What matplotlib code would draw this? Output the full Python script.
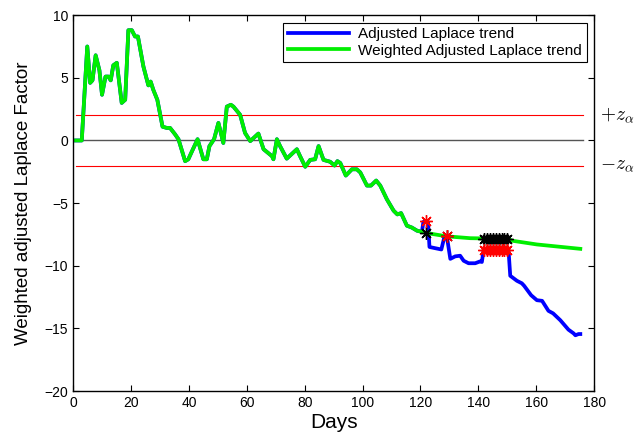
import numpy as np
import matplotlib.pyplot as plt

# common part of both trends (the blue lies under the green here)
days_common = [1, 3, 4.9, 5.9, 6.7, 7.8, 9.1, 10.0, 11.2, 12.2, 13.0, 13.9, 15.1,
               16.8, 18.0, 19.1, 20.3, 21.4, 22.4, 24.3, 26.0, 26.8, 27.7, 29.1,
               30.9, 32.4, 33.5, 35.2, 36.4, 38.7, 39.8, 43.0, 45.0, 46.2, 47.1,
               48.7, 50.2, 51.9, 53.1, 54.5, 55.4, 57.7, 59.4, 61.2, 64.0, 65.8,
               68.7, 69.2, 70.4, 71.5, 73.8, 77.3, 78.4, 80.2, 81.9, 83.6, 84.8,
               86.5, 88.8, 90.3, 91.3, 92.3, 94.2, 96.3, 98.0, 99.2, 101.5, 102.9,
               104.7, 106.1, 108.4, 110.7, 112.0, 113.3, 115.3, 117.0, 118.8, 120.5]
vals_common = [0, 0, 7.5, 4.6, 4.8, 6.8, 5.6, 3.65, 5.1, 5.1, 4.8, 6.0, 6.2,
               3.0, 3.25, 8.8, 8.8, 8.3, 8.3, 5.9, 4.4, 4.7, 4.05, 3.25,
               1.1, 1.0, 1.0, 0.5, 0.1, -1.65, -1.5, 0.1, -1.5, -1.5, -0.45,
               0.1, 1.4, -0.2, 2.7, 2.85, 2.7, 2.05, 0.6, -0.05, 0.55, -0.7,
               -1.25, -1.5, 0.1, -0.45, -1.45, -0.7, -1.25, -2.1, -1.55, -1.5, -0.45,
               -1.55, -1.7, -2.0, -1.65, -1.8, -2.8, -2.3, -2.3, -2.55, -3.6, -3.6,
               -3.2, -3.6, -4.7, -5.6, -5.9, -5.8, -6.8, -6.95, -7.2, -7.3]

# adjusted Laplace trend after the split
days_adj = [121.0, 122.6, 123.1, 125.1, 127.2, 128.3, 129.1, 130.3, 132.0, 133.7,
            134.9, 136.6, 138.9, 140.6, 141.2, 141.8, 150.4, 151.0, 153.3, 155.0,
            155.8, 158.2, 160.2, 162.0, 164.2, 165.8, 168.3, 171.1, 172.9, 173.5,
            174.6, 175.2]
vals_adj = [-6.5, -6.5, -8.5, -8.6, -8.7, -7.65, -7.65, -9.45, -9.25, -9.2,
            -9.6, -9.8, -9.8, -9.65, -9.7, -8.75, -8.75, -10.8, -11.2, -11.4,
            -11.6, -12.35, -12.75, -12.8, -13.6, -13.8, -14.35, -15.1, -15.4, -15.55,
            -15.45, -15.45]

# weighted trend after the split
days_w = [121.9, 129.0, 137.2, 150.4, 151.6, 160.2, 175.2]
vals_w = [-7.38, -7.65, -7.8, -7.85, -8.0, -8.3, -8.65]

# detected points
ev_days = [122, 129, 142, 143, 144, 145, 146, 147, 148, 149, 150]
ev_adj = [-6.45, -7.65] + [-8.75] * 9
ev_w = [-7.38, -7.65] + [-7.83] * 9

z_a = 2

plt.rcParams['font.family'] = ['Liberation Sans', 'DejaVu Sans']
plt.rcParams['mathtext.fontset'] = 'cm'

fig = plt.figure(figsize=(6.41, 4.34), dpi=100)
ax = fig.add_axes([0.114, 0.099, 0.813, 0.866])

x_b = days_common + days_adj
y_b = vals_common + vals_adj
x_g = days_common + days_w
y_g = vals_common + vals_w

ax.plot([1, 176], [z_a, z_a], color='red', lw=0.8)
ax.plot([1, 176], [0, 0], color='#555555', lw=1.0)
ax.plot([1, 176], [-z_a, -z_a], color='red', lw=0.8)

ax.plot(x_b, y_b, color='blue', lw=2.7, label='Adjusted Laplace trend')
ax.plot(x_g, y_g, color='#00ee00', lw=2.7, label='Weighted Adjusted Laplace trend')

star = (8, 2, 0)
ax.plot(ev_days, ev_w, ls='none', marker=star, ms=9, mew=1.0, color='black')
ax.plot(ev_days, ev_adj, ls='none', marker=star, ms=9, mew=1.0, color='red')

ax.text(182, z_a, r'$+z_\alpha$', fontsize=14, va='center', ha='left', clip_on=False)
ax.text(182, -z_a, r'$-z_\alpha$', fontsize=14, va='center', ha='left', clip_on=False)

ax.set_xlim(0, 180)
ax.set_ylim(-20, 10)
ax.set_xticks(np.arange(0, 181, 20))
ax.set_yticks(np.arange(-20, 11, 5))
ax.tick_params(direction='in', top=True, right=True, labelsize=10, width=0.8, length=4)
for s in ax.spines.values():
    s.set_linewidth(1.0)

ax.set_xlabel('Days', fontsize=15, labelpad=2)
ax.set_ylabel('Weighted adjusted Laplace Factor', fontsize=13.5, labelpad=9)

leg = ax.legend(loc='upper right', fontsize=11, fancybox=False, edgecolor='black',
                framealpha=1, borderaxespad=0.5, handlelength=4.0,
                borderpad=0.3, labelspacing=0.15, handletextpad=0.6)
leg.get_frame().set_linewidth(0.8)

fig.savefig('out.png', dpi=100)
